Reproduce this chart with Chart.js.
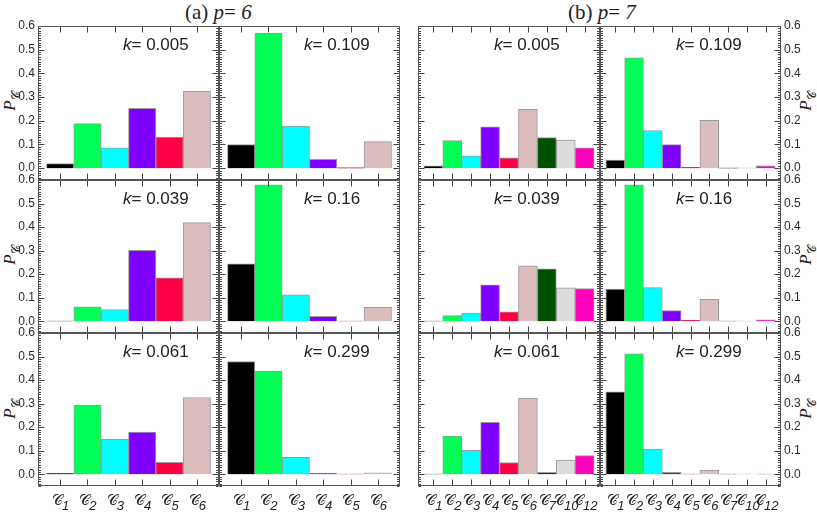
<!DOCTYPE html>
<html>
<head>
<meta charset="utf-8">
<script src="https://cdn.jsdelivr.net/npm/chart.js@4.4.1/dist/chart.umd.min.js"></script>
<style>
  body { margin: 0; background: #fff; }
  #wrap { position: relative; width: 817px; height: 512px; overflow: hidden; background: #fff; }
  #wrap canvas { position: absolute; }
  .ttl { position: absolute; font-family: "Liberation Serif", serif; font-size: 21px; line-height: 24px; color: #222; white-space: nowrap; }
  .ylab { position: absolute; width: 0; height: 0; }
  .ylab span { position: absolute; transform: translate(-50%, -50%) rotate(-90deg); font-family: "Liberation Serif", serif; font-size: 17px; color: #222; white-space: nowrap; }
  .ylab sub { font-size: 12px; }
</style>
</head>
<body>
<div id="wrap">
  <div class="ttl" style="left:185px; top:0px;">(a) <i>p</i>= <i>6</i></div>
  <div class="ttl" style="left:568px; top:0px;">(b) <i>p</i>= <i>7</i></div>
  <div class="ylab" style="left:12px; top:101px;"><span><i>P</i><sub>𝒞</sub></span></div>
  <div class="ylab" style="left:12px; top:255px;"><span><i>P</i><sub>𝒞</sub></span></div>
  <div class="ylab" style="left:12px; top:409px;"><span><i>P</i><sub>𝒞</sub></span></div>
  <div class="ylab" style="left:808px; top:101px;"><span><i>P</i><sub>𝒞</sub></span></div>
  <div class="ylab" style="left:808px; top:255px;"><span><i>P</i><sub>𝒞</sub></span></div>
  <div class="ylab" style="left:808px; top:409px;"><span><i>P</i><sub>𝒞</sub></span></div>
</div>
<script>
// categories (cluster types) for p = 6 and p = 7: symbol + index
const catsA = ['1', '2', '3', '4', '5', '6'];
const catsB = ['1', '2', '3', '4', '5', '6', '7', '10', '12'];

// k values shown in each panel
const kCol1 = ['0.005', '0.039', '0.061'];
const kCol2 = ['0.109', '0.16', '0.299'];

// y axis ticks
const yTicks = [0, 0.1, 0.2, 0.3, 0.4, 0.5, 0.6];
const yTickLabels = ['0.0', '0.1', '0.2', '0.3', '0.4', '0.5', '0.6'];

// (a) p = 6
const pA_005 = [0.019, 0.188, 0.086, 0.252, 0.131, 0.324];
const pA_039 = [0.001, 0.061, 0.050, 0.301, 0.184, 0.419];
const pA_061 = [0.004, 0.294, 0.149, 0.179, 0.051, 0.326];
const pA_109 = [0.099, 0.570, 0.178, 0.037, 0.002, 0.112];
const pA_160 = [0.244, 0.579, 0.112, 0.021, 0.001, 0.059];
const pA_299 = [0.479, 0.438, 0.072, 0.004, 0.001, 0.006];

// (b) p = 7
const pB_005 = [0.010, 0.116, 0.052, 0.174, 0.044, 0.248, 0.129, 0.118, 0.086];
const pB_039 = [0.001, 0.024, 0.035, 0.155, 0.040, 0.235, 0.223, 0.142, 0.139];
const pB_061 = [0.001, 0.162, 0.102, 0.221, 0.050, 0.323, 0.008, 0.060, 0.079];
const pB_109 = [0.034, 0.466, 0.159, 0.099, 0.004, 0.202, 0.001, 0.001, 0.010];
const pB_160 = [0.137, 0.580, 0.143, 0.045, 0.005, 0.093, 0.001, 0.001, 0.006];
const pB_299 = [0.350, 0.512, 0.107, 0.008, 0.001, 0.018, 0.001, 0.001, 0.001];

const barColors = ['#000000', '#00ff55', '#00ffff', '#8000ff', '#ff0044', '#dbbdbd', '#005000', '#dcdcdc', '#ff00bb'];

Chart.defaults.color = '#2a2a2a';
Chart.defaults.font.family = '"Liberation Sans", Arial, sans-serif';

// panel frame, inward ticks, k label and the x labels
const frameTicks = {
  id: 'frameTicks',
  afterDatasetsDraw(chart, args, opts) {
    const ctx = chart.ctx;
    const a = chart.chartArea;
    const x = chart.scales.x, y = chart.scales.y;
    const L = Math.round(a.left) + 0.5, R = Math.round(a.right) - 0.5;
    const T = Math.round(a.top) + 0.5, B = Math.round(a.bottom) - 0.5;
    ctx.save();
    ctx.strokeStyle = '#444';
    ctx.lineWidth = 1;
    ctx.beginPath();
    for (let v = -5; v <= 60; v++) {
      const py = Math.round(y.getPixelForValue(v / 100)) + 0.5;
      const len = v % 10 === 0 ? 6 : 2.5;
      ctx.moveTo(L, py); ctx.lineTo(L + len, py);
      ctx.moveTo(R, py); ctx.lineTo(R - len, py);
    }
    x.ticks.forEach(t => {
      const px = Math.round(x.getPixelForValue(t.value)) + 0.5;
      ctx.moveTo(px, B); ctx.lineTo(px, B - 6);
      ctx.moveTo(px, T); ctx.lineTo(px, T + 6);
    });
    ctx.stroke();
    ctx.strokeStyle = '#555';
    ctx.strokeRect(L, T, R - L, B - T);

    ctx.fillStyle = '#222';
    ctx.textBaseline = 'alphabetic';
    ctx.textAlign = 'left';
    ctx.font = 'italic 17px "Liberation Sans", Arial, sans-serif';
    const tx = a.left + opts.kx, ty = a.top + 24;
    ctx.fillText('k', tx, ty);
    const w = ctx.measureText('k').width;
    ctx.font = '17px "Liberation Sans", Arial, sans-serif';
    ctx.fillText('= ' + opts.k, tx + w, ty);

    if (opts.xLab) {
      const symFont = '15px "DejaVu Serif", "DejaVu Sans", serif';
      const subFont = 'italic 13px "Liberation Sans", Arial, sans-serif';
      x.ticks.forEach((t, i) => {
        const px = x.getPixelForValue(t.value);
        ctx.font = symFont;
        const ws = ctx.measureText('𝒞').width;
        ctx.font = subFont;
        const wd = ctx.measureText(opts.cats[i]).width;
        const sx = px - (ws + wd) / 2 + 1;
        ctx.font = symFont;
        ctx.fillText('𝒞', sx, a.bottom + 19);
        ctx.font = subFont;
        ctx.fillText(opts.cats[i], sx + ws - 1, a.bottom + 24);
      });
    }
    ctx.restore();
  }
};

const colsA = [38, 219, 400];
const colsB = [418, 600, 781];
const rows = [26, 180, 333, 486];

const panels = [
  { cols: colsA, c: 0, r: 0, cats: catsA, vals: pA_005, k: kCol1[0], yLeft: true },
  { cols: colsA, c: 0, r: 1, cats: catsA, vals: pA_039, k: kCol1[1], yLeft: true },
  { cols: colsA, c: 0, r: 2, cats: catsA, vals: pA_061, k: kCol1[2], yLeft: true, xLab: true },
  { cols: colsA, c: 1, r: 0, cats: catsA, vals: pA_109, k: kCol2[0] },
  { cols: colsA, c: 1, r: 1, cats: catsA, vals: pA_160, k: kCol2[1] },
  { cols: colsA, c: 1, r: 2, cats: catsA, vals: pA_299, k: kCol2[2], xLab: true },
  { cols: colsB, c: 0, r: 0, cats: catsB, vals: pB_005, k: kCol1[0] },
  { cols: colsB, c: 0, r: 1, cats: catsB, vals: pB_039, k: kCol1[1] },
  { cols: colsB, c: 0, r: 2, cats: catsB, vals: pB_061, k: kCol1[2], xLab: true },
  { cols: colsB, c: 1, r: 0, cats: catsB, vals: pB_109, k: kCol2[0], yRight: true },
  { cols: colsB, c: 1, r: 1, cats: catsB, vals: pB_160, k: kCol2[1], yRight: true },
  { cols: colsB, c: 1, r: 2, cats: catsB, vals: pB_299, k: kCol2[2], yRight: true, xLab: true }
];

const wrap = document.getElementById('wrap');

panels.forEach(p => {
  const x0 = p.cols[p.c], x1 = p.cols[p.c + 1];
  const y0 = rows[p.r], y1 = rows[p.r + 1];
  const showY = !!(p.yLeft || p.yRight);
  const padL = p.yLeft ? 38 : 8;
  const padR = p.yRight ? 36 : 8;
  const padT = 10;
  const padB = p.xLab ? 26 : 10;
  const cv = document.createElement('canvas');
  cv.width = x1 - x0 + padL + padR;
  cv.height = y1 - y0 + padT + padB;
  cv.style.left = (x0 - padL) + 'px';
  cv.style.top = (y0 - padT) + 'px';
  cv.style.width = cv.width + 'px';
  cv.style.height = cv.height + 'px';
  wrap.appendChild(cv);

  const n = p.cats.length;
  const isB = n > 6;

  new Chart(cv.getContext('2d'), {
    type: 'bar',
    data: {
      datasets: [{
        data: p.vals.map((v, i) => ({ x: i, y: v })),
        backgroundColor: barColors.slice(0, n),
        borderColor: 'rgba(130,130,130,0.8)',
        borderWidth: 1,
        barPercentage: 1,
        categoryPercentage: 1
      }]
    },
    options: {
      responsive: false,
      animation: false,
      devicePixelRatio: 1,
      layout: {
        padding: {
          left: p.yLeft ? 0 : padL,
          right: p.yRight ? 0 : padR,
          top: padT,
          bottom: padB
        }
      },
      plugins: {
        legend: { display: false },
        tooltip: { enabled: false },
        frameTicks: { k: p.k, kx: isB ? 76 : 85, xLab: !!p.xLab, cats: p.cats }
      },
      scales: {
        x: {
          type: 'linear',
          offset: false,
          min: -0.81,
          max: n - 1 + 0.81,
          display: false,
          afterBuildTicks: s => { s.ticks = p.cats.map((c, i) => ({ value: i })); }
        },
        y: {
          min: -0.05,
          max: 0.6,
          position: p.yRight ? 'right' : 'left',
          display: showY,
          grid: { display: false, drawTicks: false },
          border: { display: false },
          afterBuildTicks: s => { s.ticks = yTicks.map(v => ({ value: v })); },
          ticks: {
            padding: 3,
            font: { size: 12 },
            callback: (v, i) => yTickLabels[i]
          },
          afterFit: s => {
            if (!showY) return;
            s.width = p.yRight ? 36 : 38;
            s.paddingTop = 0;
            s.paddingBottom = 0;
          }
        }
      }
    },
    plugins: [frameTicks]
  });
});
</script>
</body>
</html>
